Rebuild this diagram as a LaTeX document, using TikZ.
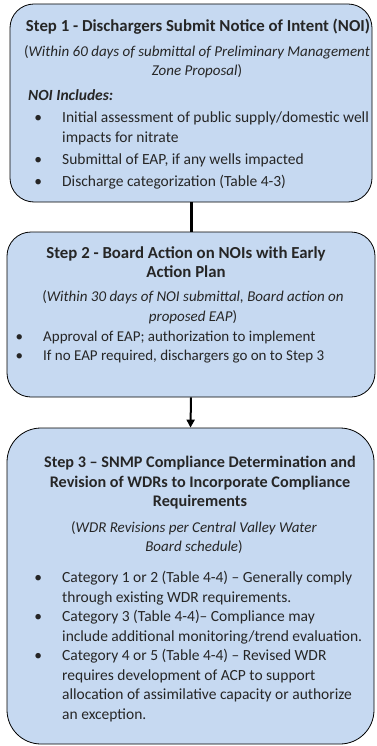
\documentclass[tikz,border=0pt]{standalone}
\usepackage{fontspec}
\setmainfont{Carlito}
\usetikzlibrary{positioning, arrows.meta}
\definecolor{stepfill}{RGB}{198,217,241}
\newcommand{\bul}{\llap{\textbullet\hspace{20pt}}}

\begin{document}
\begin{tikzpicture}[x=1pt, y=-1pt,
	every node/.style={font=\fontsize{15.5}{19.5}\selectfont, text=black!85, inner sep=0pt},
	stepbox/.style={draw=black, line width=0.8pt, fill=stepfill, rounded corners=24pt},
	steptitle/.style={font=\fontsize{16.8}{19.5}\selectfont\bfseries, align=center, anchor=north},
	stepnote/.style={font=\fontsize{15}{19.5}\selectfont, align=center, anchor=north},
	steplist/.style={align=left, anchor=north west}]
	\useasboundingbox (0,0) rectangle (376,746);

	% the three boxes
	\node [stepbox, minimum width=362pt, minimum height=198pt] (box1) at (191,103) {};
	\node [stepbox, minimum width=368pt, minimum height=165pt] (box2) at (191,314.5) {};
	\node [stepbox, rounded corners=34pt, minimum width=367pt, minimum height=316pt] (box3) at (190.5,586) {};

	\draw [line width=3pt] (box1.south) -- (box2.north);
	\draw [line width=2pt, -{Triangle[length=8pt, width=8pt]}] (box2.south) -- (box3.north);

	% step 1
	\node [steptitle] (title1) at (198,19) {Step 1 - Dischargers Submit Notice of Intent (NOI)};
	\node [stepnote] (note1) at (197,45) {(\textit{Within 60 days of submittal of Preliminary Management}\\ \textit{Zone Proposal})};
	\node [steplist, font=\fontsize{15.5}{19.5}\selectfont\bfseries\itshape] (head1) at (28,89.5) {NOI Includes:};
	\node [steplist] (list1) at (62,112) {\bul Initial assessment of public supply/domestic well\\ impacts for nitrate\\[3pt]
		\bul Submittal of EAP, if any wells impacted\\[2pt]
		\bul Discharge categorization (Table 4-3)};

	% step 2
	\node [steptitle] (title2) at (186,246) {Step 2 - Board Action on NOIs with Early\\ Action Plan};
	\node [stepnote] (note2) at (193,290.5) {(\textit{Within 30 days of NOI submittal, Board action on}\\ \textit{proposed EAP})};
	\node [steplist, font=\fontsize{15}{18.5}\selectfont] (list2) at (43,331) {\bul Approval of EAP; authorization to implement\\
		\bul If no EAP required, dischargers go on to Step 3};

	% step 3
	\node [steptitle, font=\fontsize{16.2}{19.5}\selectfont\bfseries] (title3) at (200,456) {Step 3 -- SNMP Compliance Determination and\\ Revision of WDRs to Incorporate Compliance\\ Requirements};
	\node [stepnote] (note3) at (194,521) {(\textit{WDR Revisions per Central Valley Water}\\ \textit{Board schedule})};
	\node [steplist] (list3) at (62,571) {\bul Category 1 or 2 (Table 4-4) -- Generally comply\\ through existing WDR requirements.\\
		\bul Category 3 (Table 4-4)-- Compliance may\\ include additional monitoring/trend evaluation.\\
		\bul Category 4 or 5 (Table 4-4) -- Revised WDR\\ requires development of ACP to support\\ allocation of assimilative capacity or authorize\\ an exception.};
\end{tikzpicture}
\end{document}
